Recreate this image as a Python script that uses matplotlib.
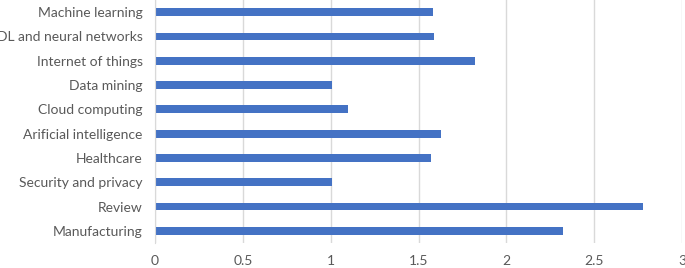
import numpy as np
import matplotlib.pyplot as plt

categories = ["Manufacturing", "Review", "Security and privacy", "Healthcare",
              "Arificial intelligence", "Cloud computing", "Data mining",
              "Internet of things", "DL and neural networks", "Machine learning"]
values = [2.32, 2.78, 1.01, 1.57, 1.63, 1.10, 1.01, 1.82, 1.59, 1.58]
xticks = [0, 0.5, 1, 1.5, 2, 2.5, 3]
xticklabels = ["0", "0.5", "1", "1.5", "2", "2.5", "3"]

plt.rcParams['font.family'] = ['Lato', 'DejaVu Sans']

fig = plt.figure(figsize=(6.85, 2.68), dpi=100)
ax = fig.add_axes([0.2263, 0.0933, 0.7693, 0.9067])

ypos = np.arange(len(categories))
ax.barh(ypos, values, height=0.32, color="#4472C4", zorder=2)

ax.set_xlim(0, 3)
ax.set_ylim(-0.5, len(categories) - 0.5)
ax.set_xticks(xticks)
ax.set_xticklabels(xticklabels)
ax.set_yticks(ypos)
ax.set_yticklabels(categories)

ax.grid(axis="x", color="#D9D9D9", linewidth=1, zorder=0)
for s in ["top", "right", "bottom"]:
    ax.spines[s].set_visible(False)
ax.spines["left"].set_color("#D9D9D9")
ax.tick_params(axis="both", length=0, labelsize=10, colors="#595959")
ax.tick_params(axis="y", pad=9)
ax.tick_params(axis="x", pad=9)

fig.savefig("out.png", dpi=100)
